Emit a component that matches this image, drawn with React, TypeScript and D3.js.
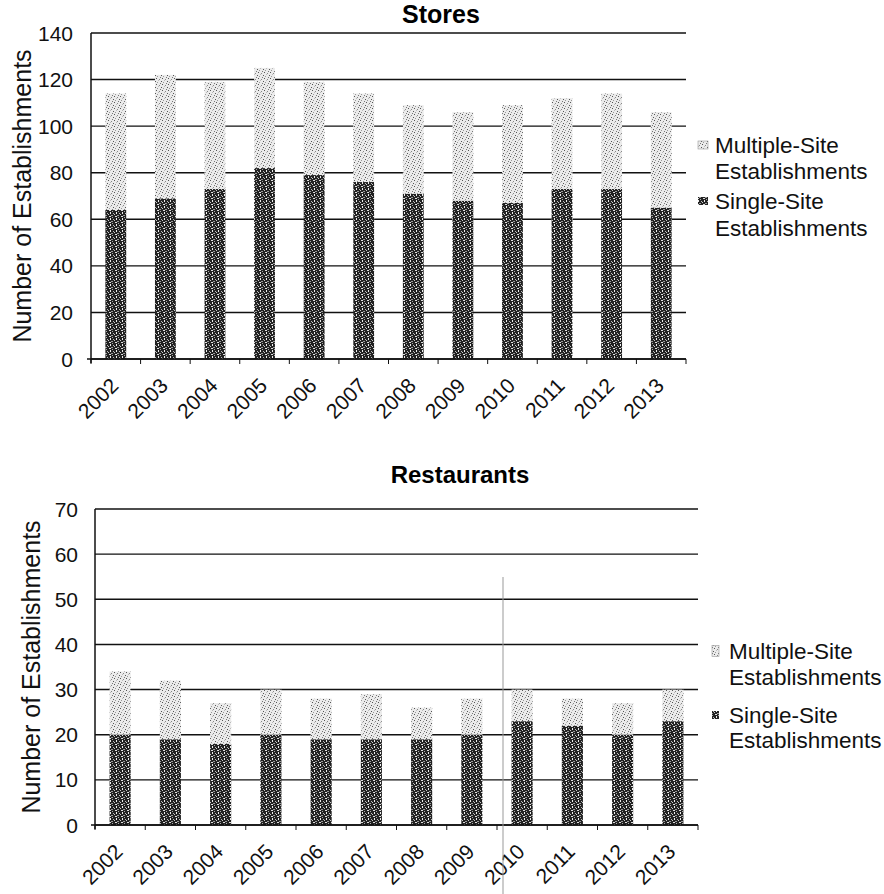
import React from "react";
import * as d3 from "d3";

const years = ["2002", "2003", "2004", "2005", "2006", "2007", "2008", "2009", "2010", "2011", "2012", "2013"];

const storesSingle = [64, 69, 73, 82, 79, 76, 71, 68, 67, 73, 73, 65];
const storesMultiple = [50, 53, 46, 43, 40, 38, 38, 38, 42, 39, 41, 41];

const restaurantsSingle = [20, 19, 18, 20, 19, 19, 19, 20, 23, 22, 20, 23];
const restaurantsMultiple = [14, 13, 9, 10, 9, 10, 7, 8, 7, 6, 7, 7];

const storesTicks = [0, 20, 40, 60, 80, 100, 120, 140];
const restaurantsTicks = [0, 10, 20, 30, 40, 50, 60, 70];

const seriesNames = ["Multiple-Site", "Single-Site"];

const FONT = "'Liberation Sans', Arial, sans-serif";

type PanelProps = {
  title: string;
  single: number[];
  multiple: number[];
  ticks: number[];
  yMax: number;
  x0: number;
  x1: number;
  yTop: number;
  yBottom: number;
  titleX: number;
  titleY: number;
  titleSize: number;
  yTitleX: number;
  tickLabelGap: number;
  xLabelDx: number;
  xLabelDy: number;
  legendX: number;
  legendSwatchX: number;
  legendBaselines: number[];
  swatchSizes: [number, number][];
};

function Panel(p: PanelProps) {
  const x = d3.scaleBand<string>().domain(years).range([p.x0, p.x1]).paddingInner(0.58).paddingOuter(0.29);
  const y = d3.scaleLinear().domain([0, p.yMax]).range([p.yBottom, p.yTop]);
  const step = (p.x1 - p.x0) / years.length;
  const stacked = d3.stack<number>().keys(["single", "multiple"]).value((i, key) =>
    key === "single" ? p.single[i] : p.multiple[i]
  )(d3.range(years.length));
  const fills = ["url(#darkDots)", "url(#lightDots)"];
  const midY = (p.yTop + p.yBottom) / 2;

  return (
    <g>
      <text x={p.titleX} y={p.titleY} textAnchor="middle" fontFamily={FONT} fontWeight="bold" fontSize={p.titleSize} fill="#000">
        {p.title}
      </text>
      {/* gridlines */}
      {p.ticks.map((t) => (
        <line key={"g" + t} x1={p.x0} x2={p.x1} y1={y(t)} y2={y(t)} stroke="#111" strokeWidth={1.4} />
      ))}
      {/* stacked bars */}
      {stacked.map((layer, li) =>
        layer.map((d, i) => (
          <rect
            key={li + "-" + i}
            x={x(years[i])}
            width={x.bandwidth()}
            y={y(d[1])}
            height={y(d[0]) - y(d[1])}
            fill={fills[li]}
          />
        ))
      )}
      {/* axes */}
      <line x1={p.x0} x2={p.x0} y1={p.yTop} y2={p.yBottom + 4} stroke="#111" strokeWidth={1.5} />
      <line x1={p.x0 - 4} x2={p.x1} y1={p.yBottom} y2={p.yBottom} stroke="#111" strokeWidth={1.5} />
      {d3.range(years.length + 1).map((i) => (
        <line key={"xt" + i} x1={p.x0 + i * step} x2={p.x0 + i * step} y1={p.yBottom} y2={p.yBottom + 5} stroke="#111" strokeWidth={1} />
      ))}
      {p.ticks.map((t) => (
        <text key={"yl" + t} x={p.x0 - p.tickLabelGap} y={y(t)} dy="0.36em" textAnchor="end" fontFamily={FONT} fontSize={21} fill="#111">
          {t}
        </text>
      ))}
      {years.map((yr) => {
        const cx = (x(yr) as number) + x.bandwidth() / 2;
        return (
          <text
            key={"xl" + yr}
            transform={`translate(${cx + p.xLabelDx},${p.yBottom + p.xLabelDy}) rotate(-45)`}
            textAnchor="end"
            fontFamily={FONT}
            fontSize={21}
            fill="#111"
          >
            {yr}
          </text>
        );
      })}
      <text
        transform={`translate(${p.yTitleX},${midY}) rotate(-90)`}
        textAnchor="middle"
        dominantBaseline="central"
        fontFamily={FONT}
        fontSize={25}
        fill="#111"
      >
        Number of Establishments
      </text>
      {/* legend */}
      {seriesNames.map((name, i) => {
        const b0 = p.legendBaselines[i * 2];
        const [sw, sh] = p.swatchSizes[i];
        return (
          <g key={"lg" + name}>
            <rect
              x={p.legendSwatchX}
              y={b0 - 8 - sh / 2}
              width={sw}
              height={sh}
              fill={i === 0 ? "url(#lightDots)" : "url(#darkDots)"}
              stroke={i === 0 ? "#999" : "none"}
              strokeWidth={0.6}
            />
            <text x={p.legendX} y={b0} fontFamily={FONT} fontSize={22.5} fill="#111">
              {name}
            </text>
            <text x={p.legendX} y={p.legendBaselines[i * 2 + 1]} fontFamily={FONT} fontSize={22.5} fill="#111">
              Establishments
            </text>
          </g>
        );
      })}
    </g>
  );
}

export default function App() {
  return (
    <svg width={884} height={894} style={{ position: "absolute", left: 0, top: 0, background: "#fff" }}>
      <defs>
        <pattern id="darkDots" width={6} height={6} patternUnits="userSpaceOnUse">
          <rect width={6} height={6} fill="#222" />
          <rect x={1} y={0} width={2} height={1} fill="#ddd" />
          <rect x={4} y={1} width={1} height={1} fill="#aaa" />
          <rect x={2} y={2} width={1} height={2} fill="#eee" />
          <rect x={5} y={3} width={1} height={1} fill="#bbb" />
          <rect x={0} y={4} width={1} height={1} fill="#ccc" />
          <rect x={3} y={5} width={2} height={1} fill="#999" />
        </pattern>
        <pattern id="lightDots" width={6} height={6} patternUnits="userSpaceOnUse">
          <rect width={6} height={6} fill="#ebebeb" />
          <rect x={0} y={0} width={1} height={1} fill="#555" />
          <rect x={3} y={1} width={1} height={1} fill="#888" />
          <rect x={5} y={3} width={1} height={1} fill="#555" />
          <rect x={1} y={4} width={1} height={1} fill="#999" />
          <rect x={4} y={5} width={1} height={1} fill="#777" />
          <rect x={2} y={2} width={1} height={1} fill="#bbb" />
        </pattern>
      </defs>
      <Panel
        title="Stores"
        single={storesSingle}
        multiple={storesMultiple}
        ticks={storesTicks}
        yMax={140}
        x0={91}
        x1={686}
        yTop={33}
        yBottom={359}
        titleX={441}
        titleY={23}
        titleSize={25}
        yTitleX={22}
        tickLabelGap={18}
        xLabelDx={4}
        xLabelDy={28}
        legendX={715}
        legendSwatchX={698}
        legendBaselines={[153, 179, 209, 236]}
        swatchSizes={[[10, 8], [10, 8]]}
      />
      <Panel
        title="Restaurants"
        single={restaurantsSingle}
        multiple={restaurantsMultiple}
        ticks={restaurantsTicks}
        yMax={70}
        x0={95}
        x1={698}
        yTop={509}
        yBottom={825}
        titleX={460}
        titleY={483}
        titleSize={24}
        yTitleX={31}
        tickLabelGap={17}
        xLabelDx={4}
        xLabelDy={28}
        legendX={729}
        legendSwatchX={712}
        legendBaselines={[659, 685, 723, 748]}
        swatchSizes={[[7, 11], [7, 8]]}
      />
      <line x1={503} x2={503} y1={577} y2={894} stroke="#999" strokeWidth={1} />
    </svg>
  );
}
